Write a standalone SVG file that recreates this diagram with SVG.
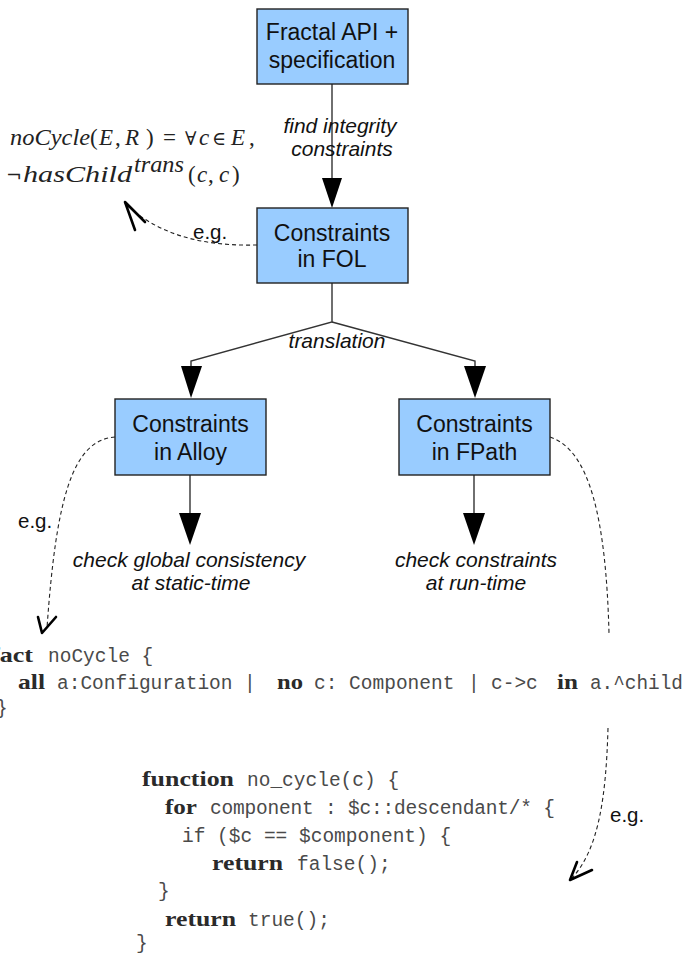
<svg xmlns="http://www.w3.org/2000/svg" width="685" height="956" viewBox="0 0 685 956">
<style>
.box{fill:#99ccff;stroke:#222;stroke-width:1.4}
.bt{font-family:"Liberation Sans",Arial,sans-serif;font-size:23px;fill:#111;text-anchor:middle}
.lbl{font-family:"Liberation Sans",Arial,sans-serif;font-size:21px;font-style:italic;fill:#111;text-anchor:middle}
.eg{font-family:"Liberation Sans",Arial,sans-serif;font-size:20.5px;fill:#111}
.ln{fill:none;stroke:#333;stroke-width:1.4}
.hd{fill:#000;stroke:none}
.dash{fill:none;stroke:#222;stroke-width:1.1;stroke-dasharray:4 3}
.open{fill:none;stroke:#000;stroke-width:2.6;stroke-linecap:round;stroke-linejoin:round}
.m{font-family:"Liberation Serif","Times New Roman",serif;font-size:23px;fill:#222}
.mi{font-style:italic}
.ms{font-family:"DejaVu Serif","Liberation Serif",serif;font-size:19px;fill:#222}
.kw{font-family:"Liberation Serif","Times New Roman",serif;font-size:21px;font-weight:bold;fill:#2a2a2a}
.tt{font-family:"Liberation Mono","Courier New",monospace;font-size:19.5px;fill:#4a4a4a}
</style>
<rect width="685" height="956" fill="#fff"/>

<g id="connectors">
  <line class="ln" x1="332" y1="84" x2="332" y2="178"/>
  <polygon class="hd" points="322,178 342,178 332,208"/>
  <polyline class="ln" points="332,283 332,322 191,361 191,367"/>
  <polyline class="ln" points="332,322 475,361 475,367"/>
  <polygon class="hd" points="181,366 202,366 191,398"/>
  <polygon class="hd" points="464,366 486,366 475,398"/>
  <line class="ln" x1="190" y1="475" x2="190" y2="513"/>
  <polygon class="hd" points="179,513 201,513 190,545"/>
  <line class="ln" x1="474" y1="475" x2="474" y2="513"/>
  <polygon class="hd" points="463,513 485,513 474,545"/>
  <path class="dash" d="M257,245 C215,246 165,240 128,206"/>
  <path class="open" d="M135,230 L125,202 L145,222"/>
  <path class="dash" d="M115,437 C72,440 56,500 47,628"/>
  <path class="open" d="M38,617 L42,633 L56,617"/>
  <path class="dash" d="M550,437 C590,450 606,520 609,633"/>
  <path class="dash" d="M608,728 C606,800 598,850 572,878"/>
  <path class="open" d="M577,862 L570,880 L592,870"/>
  <text class="lbl" x="340" y="133">find integrity</text>
  <text class="lbl" x="342" y="156">constraints</text>
  <text class="lbl" x="337" y="348">translation</text>
  <text class="eg" x="193" y="239">e.g.</text>
  <text class="eg" x="18" y="528">e.g.</text>
  <text class="eg" x="610" y="822">e.g.</text>
</g>

<g id="n-fractal">
  <rect class="box" x="257" y="9" width="151" height="75"/>
  <text class="bt" x="332" y="40">Fractal API +</text>
  <text class="bt" x="332" y="68">specification</text>
</g>
<g id="n-fol">
  <rect class="box" x="257" y="208" width="151" height="75"/>
  <text class="bt" x="332" y="241">Constraints</text>
  <text class="bt" x="332" y="267">in FOL</text>
</g>
<g id="n-alloy">
  <rect class="box" x="115" y="399" width="151" height="76"/>
  <text class="bt" x="190.5" y="432">Constraints</text>
  <text class="bt" x="190.5" y="460">in Alloy</text>
</g>
<g id="n-fpath">
  <rect class="box" x="399" y="399" width="151" height="76"/>
  <text class="bt" x="474.5" y="432">Constraints</text>
  <text class="bt" x="474.5" y="460">in FPath</text>
</g>

<g id="check-alloy">
  <text class="lbl" x="189" y="567">check global consistency</text>
  <text class="lbl" x="191" y="590">at static-time</text>
</g>
<g id="check-fpath">
  <text class="lbl" x="476" y="567">check constraints</text>
  <text class="lbl" x="476" y="590">at run-time</text>
</g>

<g id="formula">
  <text class="m" y="145"><tspan class="mi" x="10" textLength="80" lengthAdjust="spacingAndGlyphs">noCycle</tspan><tspan x="90">(</tspan><tspan class="mi" x="99">E</tspan><tspan x="115">,</tspan><tspan class="mi" x="125">R</tspan><tspan x="146">)</tspan><tspan x="163">=</tspan></text>
  <text class="ms" y="145"><tspan x="185">∀</tspan><tspan x="212">∈</tspan></text>
  <text class="m" y="145"><tspan class="mi" x="199">c</tspan><tspan class="mi" x="231">E</tspan><tspan x="249">,</tspan></text>
  <text class="ms" x="6" y="182">¬</text>
  <text class="m mi" x="23" y="182" textLength="109" lengthAdjust="spacingAndGlyphs">hasChild</text>
  <text class="m mi" x="134" y="172" font-size="16" textLength="50" lengthAdjust="spacingAndGlyphs">trans</text>
  <text class="m" y="182"><tspan x="188">(</tspan><tspan class="mi" x="197">c</tspan><tspan x="208">,</tspan><tspan class="mi" x="219">c</tspan><tspan x="232">)</tspan></text>
</g>

<g id="code-alloy">
  <text class="kw" x="-9" y="662" textLength="42" lengthAdjust="spacingAndGlyphs">fact</text>
  <text class="tt" x="48" y="662">noCycle {</text>
  <text class="kw" x="18" y="689" textLength="27" lengthAdjust="spacingAndGlyphs">all</text>
  <text class="tt" x="57" y="689">a:Configuration</text>
  <text class="tt" x="244" y="689">|</text>
  <text class="kw" x="277" y="689" textLength="26" lengthAdjust="spacingAndGlyphs">no</text>
  <text class="tt" x="314" y="689">c: Component</text>
  <text class="tt" x="468" y="689">|</text>
  <text class="tt" x="491" y="689">c-&gt;c</text>
  <text class="kw" x="557" y="689" textLength="21" lengthAdjust="spacingAndGlyphs">in</text>
  <text class="tt" x="590" y="689" textLength="93" lengthAdjust="spacingAndGlyphs">a.^child</text>
  <text class="tt" x="-4" y="714">}</text>
</g>

<g id="code-fpath">
  <text class="kw" x="142" y="786" textLength="92" lengthAdjust="spacingAndGlyphs">function</text>
  <text class="tt" x="247" y="786">no_cycle(c) {</text>
  <text class="kw" x="165" y="814" textLength="32" lengthAdjust="spacingAndGlyphs">for</text>
  <text class="tt" x="210" y="814" textLength="345" lengthAdjust="spacing">component : $c::descendant/* {</text>
  <text class="tt" x="182" y="842">if ($c == $component) {</text>
  <text class="kw" x="212" y="870" textLength="71" lengthAdjust="spacingAndGlyphs">return</text>
  <text class="tt" x="297" y="870">false();</text>
  <text class="tt" x="158" y="897">}</text>
  <text class="kw" x="165" y="926" textLength="71" lengthAdjust="spacingAndGlyphs">return</text>
  <text class="tt" x="248" y="926">true();</text>
  <text class="tt" x="136" y="949">}</text>
</g>
</svg>
